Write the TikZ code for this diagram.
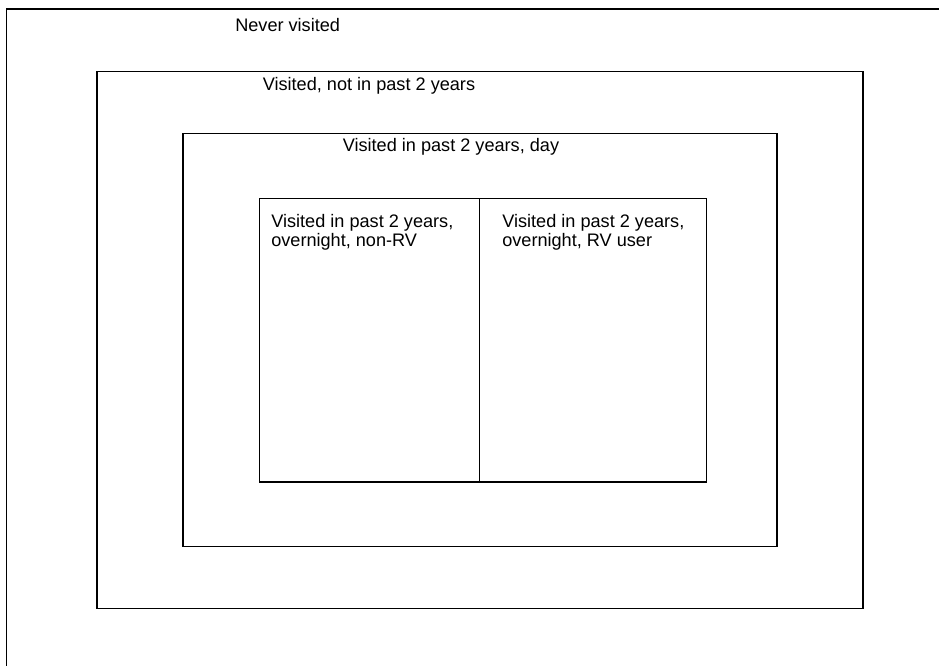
\documentclass[tikz,border=0pt]{standalone}
\usepackage{fontspec}
\setmainfont{Liberation Sans}
\begin{document}
\begin{tikzpicture}[x=0.75pt,y=-0.75pt,
  frame/.style={draw=black,line width=0.8pt},
  lbl/.style={anchor=base west,inner sep=0pt,font=\fontsize{13.6pt}{14.6pt}\selectfont,align=left}]
\useasboundingbox (0,0) rectangle (939,666);
% outer (clipped) region
\coordinate (otr) at (939,9);
\coordinate (otl) at (6.5,9);
\coordinate (obl) at (6.5,666);
\draw[frame] (otr) -- (otl) -- (obl);
% nested rectangles
\coordinate (a1) at (97,71.5);  \coordinate (a2) at (863,608.5);
\coordinate (b1) at (183,133.5); \coordinate (b2) at (777,546.3);
\coordinate (c1) at (259.3,198.5); \coordinate (c2) at (706.7,482);
\coordinate (d1) at (479.7,198.5); \coordinate (d2) at (479.7,482);
\draw[frame] (a1) rectangle (a2);
\draw[frame] (b1) rectangle (b2);
\draw[frame] (c1) rectangle (c2);
\draw[frame] (d1) -- (d2);
% labels
\node[lbl] (never) at (235,31.5) {Never visited};
\node[lbl] (notpast) at (262.5,90.5) {Visited, not in past 2 years};
\node[lbl] (day) at (342.5,152) {Visited in past 2 years, day};
\node[lbl] (nonrv) at (271,246.8) {Visited in past 2 years,\\overnight, non-RV};
\node[lbl] (rv) at (502,246.8) {Visited in past 2 years,\\overnight, RV user};
\end{tikzpicture}
\end{document}
